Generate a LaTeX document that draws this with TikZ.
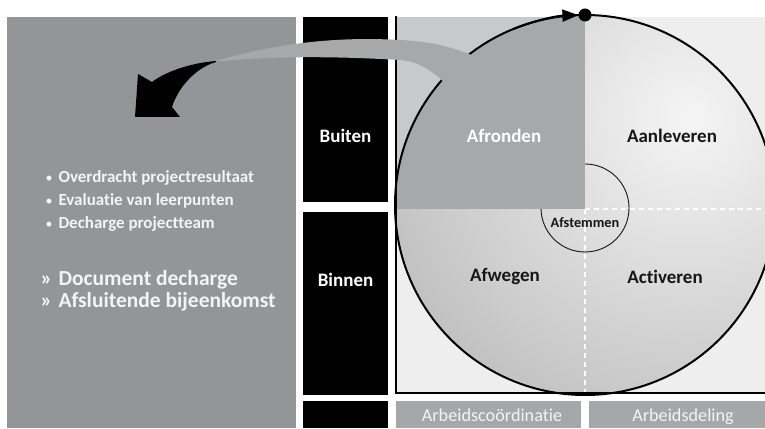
\documentclass[tikz,border=0pt]{standalone}
\usepackage{fontspec}
\setmainfont{Carlito}[Ligatures=NoCommon]
\usetikzlibrary{arrows.meta}

\definecolor{panelgray}{HTML}{939598}
\definecolor{bandgray}{HTML}{A7A8AA}
\definecolor{cornergray}{HTML}{C8C9CB}
\definecolor{framebg}{HTML}{EEEEEE}
\definecolor{offwhite}{HTML}{F4F4F4}
\definecolor{labelgray}{HTML}{A6A7A9}
\definecolor{inkblack}{HTML}{161616}

\tikzset{
  colbox/.style={fill=black, inner sep=0pt},
  footbox/.style={fill=labelgray, inner sep=0pt},
  sidetext/.style={text=white, font=\bfseries\fontsize{19}{22}\selectfont},
  phasetext/.style={text=inkblack, font=\bfseries\fontsize{19}{22}\selectfont},
  foottext/.style={text=offwhite, anchor=base, font=\fontsize{18.2}{21}\selectfont},
  itemtext/.style={text=offwhite, anchor=base west, font=\bfseries\fontsize{17}{20}\selectfont},
  resulttext/.style={text=offwhite, anchor=base west, font=\bfseries\fontsize{21.5}{24}\selectfont},
  divider/.style={white, line width=1.3pt, dash pattern=on 5pt off 4pt},
}
\newcommand{\itemdot}{\makebox[13pt][l]{\mdseries\fontsize{14}{16}\selectfont •}}
\newcommand{\resultmark}{\makebox[18pt][l]{»}}

\begin{document}
\begin{tikzpicture}[x=1pt,y=1pt]
\useasboundingbox (0,0) rectangle (765,428);
\fill[white] (0,0) rectangle (765,428);

% left panel with the phase results
\fill[panelgray] (7,0) rectangle (296,411);

% black column: Buiten / Binnen
\node[colbox, minimum width=85pt, minimum height=185pt] (buitenbox) at (345.5,318.5) {};
\node[colbox, minimum width=85pt, minimum height=183pt] (binnenbox) at (345.5,124.5) {};
\node[colbox, minimum width=85pt, minimum height=27pt] (footcorner) at (345.5,13.5) {};
\node[sidetext] (buiten) at (345.5,292) {Buiten};
\node[sidetext] (binnen) at (345.5,148) {Binnen};

% frame with the quadrants
\fill[framebg] (396,35) rectangle (765,411);
\fill[cornergray] (396,219) rectangle (585,411);

% shaded disc
\coordinate (c) at (585,223);
\begin{scope}
  \clip (c) circle (190);
  \shade[inner color=white!96!black, outer color=black!25] (690,310) circle (340);
\end{scope}

% inner circle
\node[circle, draw=inkblack, line width=0.9pt, minimum size=88pt, inner sep=0pt] (afstcircle) at (585,220) {};

% dashed quadrant dividers
\coordinate (mid) at (585,219);
\coordinate (east) at (765,219);
\coordinate (south) at (585,35);
\draw[divider] (mid) -- (east);
\draw[divider] (mid) -- (south);

% Afronden quadrant
\begin{scope}
  \clip (c) circle (190);
  \fill[bandgray] (390,219) rectangle (585,420);
\end{scope}

% outline of the disc
\draw[line width=2pt] (c) circle (190);

% frame border
\draw[line width=2.5pt, line cap=rect] (396,411) -- (396,35) -- (765,35);

% feedback band from Afronden back to the results
\fill[bandgray] (212,366) .. controls (270,383) and (330,392) .. (400,388)
  .. controls (440,386) and (470,378) .. (520,348) -- (470,313)
  .. controls (445,350) and (425,366) .. (400,368)
  .. controls (330,372) and (270,372) .. (212,366) -- cycle;
\fill[black] (216,367) .. controls (190,365) and (165,356) .. (152,346)
  -- (138,354) -- (135,311) -- (180,311) -- (172,321)
  .. controls (178,340) and (195,360) .. (216,366) -- cycle;

% start point of the cycle
\draw[line width=2pt, -{Triangle[length=16pt,width=12pt]}] (c) ++(112:190) arc[start angle=112, end angle=92, radius=190];
\fill (585,413) circle (6.5);

% quadrant labels
\node[sidetext] (afronden) at (504,292) {Afronden};
\node[phasetext] (aanleveren) at (672,292) {Aanleveren};
\node[phasetext] (afwegen) at (505,151) {Afwegen};
\node[phasetext] (activeren) at (665,151) {Activeren};
\node[text=inkblack, font=\bfseries\fontsize{14.3}{17}\selectfont] (afstemmen) at (585,205) {Afstemmen};

% footer labels
\node[footbox, minimum width=185pt, minimum height=27pt] (coordbox) at (488.5,13.5) {};
\node[footbox, minimum width=176pt, minimum height=27pt] (delingbox) at (677,13.5) {};
\node[foottext] (coord) at (492,6) {Arbeidscoördinatie};
\node[foottext] (deling) at (683,6) {Arbeidsdeling};

% results of the phase
\node[itemtext] (item1) at (42,245) {\itemdot Overdracht projectresultaat};
\node[itemtext] (item2) at (42,222) {\itemdot Evaluatie van leerpunten};
\node[itemtext] (item3) at (42,199) {\itemdot Decharge projectteam};
\node[resulttext] (res1) at (37,142) {\resultmark Document decharge};
\node[resulttext] (res2) at (37,120) {\resultmark Afsluitende bijeenkomst};
\end{tikzpicture}
\end{document}
